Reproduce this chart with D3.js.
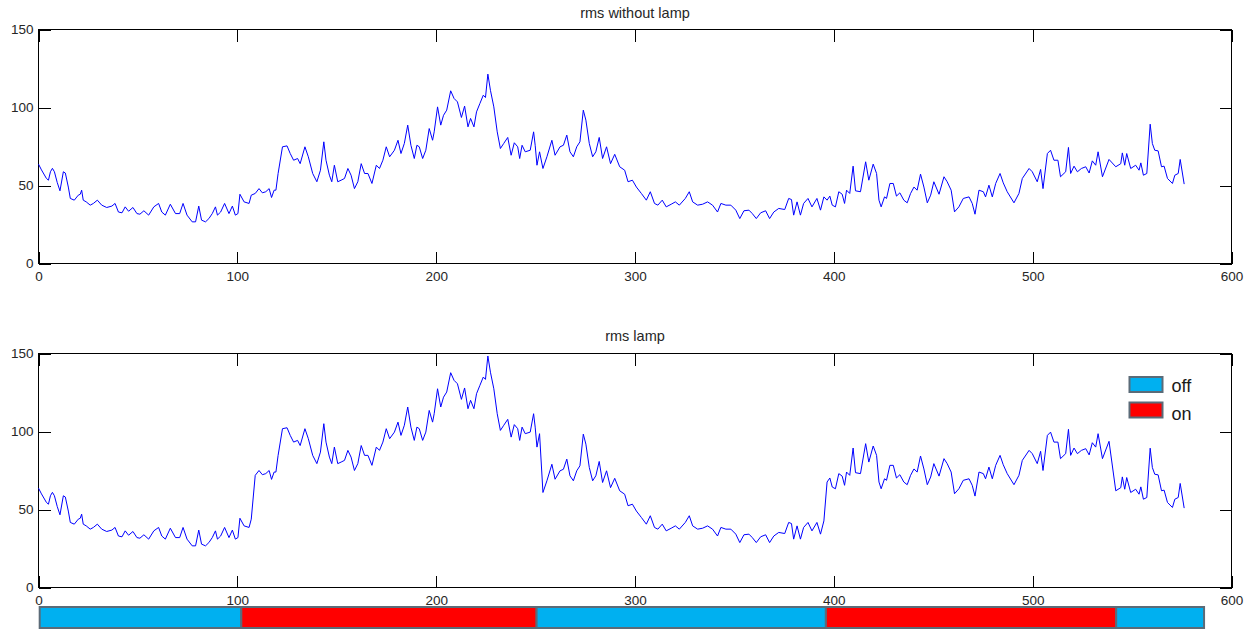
<!DOCTYPE html>
<html>
<head>
<meta charset="utf-8">
<script src="https://cdn.jsdelivr.net/npm/d3@7"></script>
<style>
  html, body { margin: 0; padding: 0; background: #ffffff; }
  #rms-chart { width: 1251px; height: 630px; }
  #rms-chart svg { display: block; }
  #rms-chart text { font-family: 'Liberation Sans', Arial, sans-serif; fill: #262626; }
  #rms-chart .tick line { stroke: #000000; stroke-width: 1px; }
  #rms-chart .tick text { font-size: 13.5px; }
  #rms-chart .panel-title { font-size: 14.5px; text-anchor: middle; }
  #rms-chart .legend-label { font-size: 18px; fill: #1a1a1a; }
</style>
</head>
<body>
<div id="rms-chart"></div>
<script>
/* ── 1. DATA ────────────────────────────────────────────────── */
const sampleIdx = [
  0, 1.5, 4, 5, 6, 7, 8, 9.4, 10.8, 12.5,
  13.5, 15, 16, 18, 20, 21, 21.7, 22.5, 24, 26,
  27.6, 29.6, 31.8, 34.3, 36.9, 38.5, 40.2, 42, 43.6, 45.3,
  47.5, 49.5, 51, 53, 55.4, 58, 60.4, 62, 63.8, 66.3,
  68.9, 71, 72.7, 74.7, 77.3, 79, 80.6, 82, 84, 85.7,
  87.4, 89, 90, 91.6, 93.6, 95.8, 97.5, 99, 100.3, 101.3,
  103.4, 105.9, 107,
  109, 110.9, 112.6, 114.3, 116, 117.2, 118.5, 119.4, 120.5, 122.7,
  125, 126.6, 128.3, 130.3, 131.6, 134, 135.7, 137.9, 140, 141.8,
  143.5, 144.6, 146.3, 147.5, 148.8, 150.5, 152.2, 153.9, 155.6, 157.2,
  158.9, 160.6, 162.3, 164, 165.7, 167.7, 169.9, 171.5, 173.2, 174.9,
  176.6, 179, 180.8, 182.3, 184, 185.7, 187.3, 189, 190.3, 191.5,
  193.2, 194.8, 196.5, 198.2, 199, 200.7, 202.3, 203.7, 205.3, 207.3,
  209, 210.7, 212.7, 214.3, 216, 217.3, 219, 220.3, 222, 223.7,
  224.8, 226, 227.3, 229, 230.7, 232.3, 234, 236, 237.7, 239.3,
  241, 242, 243.2, 244.8, 247.3, 249, 249.8, 250.7, 252,
  253.7, 255.7, 258.2, 259.8, 262.3, 264, 265.7, 267.3, 269, 270.7,
  272.3, 274, 275.3, 277, 278.7, 280.3, 282, 283.7, 285.7, 287.7,
  289.8, 292.3, 294.8, 296.5, 298.7, 300.7, 303.2, 305.7, 307.7, 309.8,
  311.5, 313.7, 315.7, 318.2, 320.3, 322.3, 325.3, 327.3, 329, 331.5,
  334, 336.5, 339, 341.5, 343.2, 345.7, 348.2, 350.7, 352.7, 354.8,
  357.3, 359, 361, 363.2, 365.7, 367.7, 369.8, 372.3, 375.3, 377.3,
  378.7, 379.8, 381.5, 383.2, 384.8, 387, 389, 391.5, 393.3, 395,
  396.6, 398, 399.2, 400.8, 402.5, 404.2, 405.4, 406.4, 408, 409.7,
  410.9, 413.4, 416, 417.6, 419.8, 421.5, 422.7, 423.8, 425.5, 426.5,
  428.2, 429.9, 431.5, 433.2, 435.2, 436.9, 438.6, 440.3, 441.9, 443.6,
  445.3, 447, 448.7, 450.3, 452.9, 455.4, 457, 459, 460.7, 462.9,
  465.1, 468, 469.6, 471, 473, 475.2, 476.3, 478, 479.7, 481.4,
  483.6, 485.2, 487.2, 490.6, 493.1, 494.8, 498.2, 499.8, 502.3, 504,
  505.2, 507.4, 509, 510.7, 512.7, 514, 516.6, 518, 519.1, 520.8,
  522.5, 524.5, 526.7, 528.4, 530, 531.7, 532.9, 535.1, 538.4,
  541.8, 544.3, 545.1, 546.3, 547.3, 549.3, 551.8, 553.5, 554.4, 555.7,
  557.4, 559.1, 560.2, 561.4, 563.1, 564.8, 566.1, 567.8, 570.3, 571.5,
  573.2, 574.2, 576.2
];

const rmsWithoutLamp = [
  63.7, 60, 54.5, 53.4, 58.8, 61, 58.8, 52, 46.6, 58.8,
  58, 49, 41.7, 40.6, 43.8, 44.4, 47, 40.6, 39.5, 37.4,
  38.5, 40.6, 37.4, 35.9, 36.8, 38.5, 33, 32.5, 36.3, 33.5,
  35.9, 32, 31.6, 33.8, 31, 36.3, 38.5, 33, 31, 38,
  32, 32, 38.5, 31, 26.7, 26.7, 36.8, 27.8, 26.7, 28.8,
  32, 36.3, 31, 33, 38.5, 32, 36.8, 31, 32, 44.4,
  39.5, 38.5, 43.8,
  44.9, 48, 45.3, 46, 48, 42.3, 47, 47, 57.7, 74.8,
  75.4, 70.5, 66.2, 67.3, 64, 74.8, 68.4, 57.7, 52.4, 59.8,
  78, 66.2, 56.6, 52.4, 63, 52.4, 53.4, 54.5, 60.9, 56.6,
  48, 52.4, 64, 57.7, 57.7, 51.3, 63, 60.9, 66.2, 74.8,
  68.4, 72.6, 79, 70.5, 77, 88.7, 75.8, 67.3, 75.8, 74.8,
  67.3, 72.6, 86.5, 79, 84.4, 100.4, 88.7, 95, 98.3, 110.7,
  105.8, 103.6, 93.6, 100.9, 87.6, 93, 87.6, 97.2, 102.6, 107.9,
  106.4, 121.4, 111, 100.4, 84.4, 73.7, 77, 80.8, 69.4, 77.4,
  74.8, 67.3, 75.8, 71.6, 72.6, 84.4, 75.8, 63, 71.6,
  60.9, 68.4, 79, 69.4, 74.8, 75.8, 82.3, 71.6, 68.4, 74.8,
  78, 98.3, 91.9, 77, 68.4, 71.6, 80.8, 67.3, 74.8, 64,
  70, 62, 59.8, 52.4, 53.4, 49, 44.9, 40.6, 46, 38.5,
  37.4, 40.6, 36.3, 38, 39.5, 37.4, 41.7, 46, 39.5, 37.4,
  38, 39.5, 37.4, 33, 38.5, 37.4, 37.4, 34.2, 28.8, 33.8,
  34.2, 32, 28.8, 32.5, 33.8, 28.8, 33, 35.3, 34.6, 41.7,
  41, 31, 39.5, 31, 38.5, 41.7, 36.3, 41.7, 34.2, 42.7,
  40.6, 43.2, 37.4, 36.3, 46, 44.4, 38.5, 47, 44.9, 62.4,
  46.6, 46, 65.2, 53.4, 63.7, 57.7, 40.6, 36.3, 42.7, 41.7,
  51.3, 51.3, 43.2, 45.3, 40.6, 38.9, 44.9, 49, 47, 57.3,
  49, 38.9, 43.8, 52.4, 44.4, 55.6, 52.4, 47, 33.1, 36.3,
  41.7, 42.7, 38.5, 31.6, 47, 46, 42.7, 50.2, 42.7, 51.3,
  57.7, 51.7, 46, 38.9, 44.9, 54.5, 60.9, 58.8, 52.4, 60.3,
  48, 70.5, 72.6, 66.2, 66.2, 55.6, 58.8, 74.4, 57.7, 62.4,
  58.8, 60.9, 62, 58, 65.8, 63, 71.6, 55.6, 66.7,
  62, 64, 70.9, 63, 70.5, 60.9, 63, 59.8, 64.5, 56.6,
  57.7, 89.3, 76.9, 72.6, 72.2, 62, 62.4, 54.5, 51.3, 56.6,
  57.7, 66.7, 50.9
];

const rmsLamp = [
  63.7, 60, 54.5, 53.4, 58.8, 61, 58.8, 52, 46.6, 58.8,
  58, 49, 41.7, 40.6, 43.8, 44.4, 47, 40.6, 39.5, 37.4,
  38.5, 40.6, 37.4, 35.9, 36.8, 38.5, 33, 32.5, 36.3, 33.5,
  35.9, 32, 31.6, 33.8, 31, 36.3, 38.5, 33, 31, 38,
  32, 32, 38.5, 31, 26.7, 26.7, 36.8, 27.8, 26.7, 28.8,
  32, 36.3, 31, 33, 38.5, 32, 36.8, 31, 32, 44.4,
  39.5, 38.5, 43.8,
  71.9, 75, 72.3, 73, 75, 69.3, 74, 74, 84.7, 101.8,
  102.4, 97.5, 93.2, 94.3, 91, 101.8, 95.4, 84.7, 79.4, 86.8,
  105, 93.2, 83.6, 79.4, 90, 79.4, 80.4, 81.5, 87.9, 83.6,
  75, 79.4, 91, 84.7, 84.7, 78.3, 90, 87.9, 93.2, 101.8,
  95.4, 99.6, 106, 97.5, 104, 115.7, 102.8, 94.3, 102.8, 101.8,
  94.3, 99.6, 113.5, 106, 111.4, 127.4, 115.7, 122, 125.3, 137.7,
  132.8, 130.6, 120.6, 127.9, 114.6, 120, 114.6, 124.2, 129.6, 134.9,
  133.4, 148.4, 138, 127.4, 111.4, 100.7, 104, 107.8, 96.4, 104.4,
  101.8, 94.3, 102.8, 98.6, 99.6, 111.4, 102.8, 90, 98.6,
  60.9, 68.4, 79, 69.4, 74.8, 75.8, 82.3, 71.6, 68.4, 74.8,
  78, 98.3, 91.9, 77, 68.4, 71.6, 80.8, 67.3, 74.8, 64,
  70, 62, 59.8, 52.4, 53.4, 49, 44.9, 40.6, 46, 38.5,
  37.4, 40.6, 36.3, 38, 39.5, 37.4, 41.7, 46, 39.5, 37.4,
  38, 39.5, 37.4, 33, 38.5, 37.4, 37.4, 34.2, 28.8, 33.8,
  34.2, 32, 28.8, 32.5, 33.8, 28.8, 33, 35.3, 34.6, 41.7,
  41, 31, 39.5, 31, 38.5, 41.7, 36.3, 41.7, 34.2, 42.7,
  67.6, 70.2, 64.4, 63.3, 73, 71.4, 65.5, 74, 71.9, 89.4,
  73.6, 73, 92.2, 80.4, 90.7, 84.7, 67.6, 63.3, 69.7, 68.7,
  78.3, 78.3, 70.2, 72.3, 67.6, 65.9, 71.9, 76, 74, 84.3,
  76, 65.9, 70.8, 79.4, 71.4, 82.6, 79.4, 74, 60.1, 63.3,
  68.7, 69.7, 65.5, 58.6, 74, 73, 69.7, 77.2, 69.7, 78.3,
  84.7, 78.7, 73, 65.9, 71.9, 81.5, 87.9, 85.8, 79.4, 87.3,
  75, 97.5, 99.6, 93.2, 93.2, 82.6, 85.8, 101.4, 84.7, 89.4,
  85.8, 87.9, 89, 85, 92.8, 90, 98.6, 82.6, 93.7,
  62, 64, 70.9, 63, 70.5, 60.9, 63, 59.8, 64.5, 56.6,
  57.7, 89.3, 76.9, 72.6, 72.2, 62, 62.4, 54.5, 51.3, 56.6,
  57.7, 66.7, 50.9
];

// lamp state bar under the second panel
const lampEdges  = [0.6, 102, 250.5, 396, 542, 586.2];
const lampStates = ["off", "on", "off", "on", "off"];

const legendKeys = ["off", "on"];
const xTicks = [0, 100, 200, 300, 400, 500, 600];
const yTicks = [0, 50, 100, 150];

/* ── 2. SVG + SCALES ────────────────────────────────────────── */
const width = 1251, height = 630;
const lampColor = { off: "#00b0f0", on: "#ff0000" };
const patchEdge = "#5b6b78";

const svg = d3.select("#rms-chart")
  .append("svg")
    .attr("width", width)
    .attr("height", height);

const x = d3.scaleLinear().domain([0, 600]).range([38.5, 1231.5]);

const panels = [
  { title: "rms without lamp", values: rmsWithoutLamp, top: 29.5,  bottom: 263.5, titleY: 17.5 },
  { title: "rms lamp",         values: rmsLamp,        top: 353.5, bottom: 587.5, titleY: 340.5 }
];

const line = d3.line();

/* ── 3. DRAW PANELS ─────────────────────────────────────────── */
panels.forEach(function (p) {
  const y = d3.scaleLinear().domain([0, 150]).range([p.bottom, p.top]);
  const g = svg.append("g");

  // frame
  g.append("rect")
    .attr("x", x(0)).attr("y", p.top)
    .attr("width", x(600) - x(0)).attr("height", p.bottom - p.top)
    .attr("fill", "none").attr("stroke", "#000").attr("stroke-width", 1)
    .attr("shape-rendering", "crispEdges");

  // ticks on all four sides, pointing inward (matlab style)
  g.append("g")
    .attr("transform", `translate(0,${p.bottom})`)
    .call(d3.axisBottom(x).tickValues(xTicks).tickSizeInner(-12).tickSizeOuter(0).tickPadding(8))
    .call(s => s.select(".domain").remove());

  g.append("g")
    .attr("transform", `translate(0,${p.top})`)
    .call(d3.axisTop(x).tickValues(xTicks).tickSizeInner(-12).tickSizeOuter(0).tickFormat(() => ""))
    .call(s => s.select(".domain").remove());

  g.append("g")
    .attr("transform", `translate(${x(0)},0)`)
    .call(d3.axisLeft(y).tickValues(yTicks).tickSizeInner(-12).tickSizeOuter(0).tickPadding(5))
    .call(s => s.select(".domain").remove());

  g.append("g")
    .attr("transform", `translate(${x(600)},0)`)
    .call(d3.axisRight(y).tickValues(yTicks).tickSizeInner(-12).tickSizeOuter(0).tickFormat(() => ""))
    .call(s => s.select(".domain").remove());

  g.selectAll(".tick line").attr("shape-rendering", "crispEdges");

  // signal
  g.append("path")
    .datum(p.values.map((v, i) => [x(sampleIdx[i]), y(v)]))
    .attr("d", line)
    .attr("fill", "none")
    .attr("stroke", "#0000ff")
    .attr("stroke-width", 1);

  // title
  g.append("text")
    .attr("class", "panel-title")
    .attr("x", (x(0) + x(600)) / 2)
    .attr("y", p.titleY)
    .text(p.title);
});

/* ── 4. LEGEND (second panel) ───────────────────────────────── */
const legend = svg.append("g").attr("transform", "translate(1129.5,377)");
legendKeys.forEach(function (k, i) {
  legend.append("rect")
    .attr("y", i * 25.5)
    .attr("width", 33).attr("height", 15)
    .attr("fill", lampColor[k])
    .attr("stroke", patchEdge).attr("stroke-width", 2);
  legend.append("text")
    .attr("class", "legend-label")
    .attr("x", 42).attr("y", 14.5 + i * 28.5)
    .text(k);
});

/* ── 5. LAMP STATE BAR ──────────────────────────────────────── */
svg.append("g")
  .selectAll("rect")
  .data(lampStates)
  .enter()
  .append("rect")
    .attr("x", (d, i) => x(lampEdges[i]))
    .attr("y", 607)
    .attr("width", (d, i) => x(lampEdges[i + 1]) - x(lampEdges[i]))
    .attr("height", 21)
    .attr("fill", d => lampColor[d])
    .attr("stroke", patchEdge)
    .attr("stroke-width", 2);
</script>
</body>
</html>
